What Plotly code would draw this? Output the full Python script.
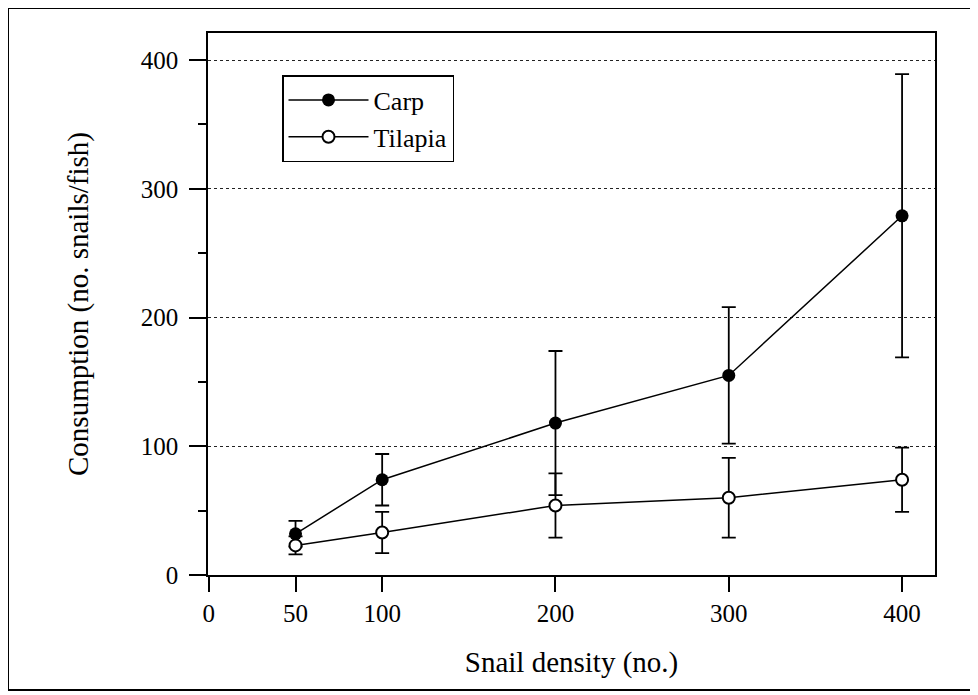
import plotly.graph_objects as go

density = [50, 100, 200, 300, 400]
carp = [32, 74, 118, 155, 279]
carp_err = [10, 20, 56, 53, 110]
tilapia = [23, 33, 54, 60, 74]
tilapia_err = [7, 16, 25, 31, 25]
x_ticks = [0, 50, 100, 200, 300, 400]
y_ticks = [0, 100, 200, 300, 400]

FONT = "Liberation Serif"

fig = go.Figure()
fig.add_trace(go.Scatter(
    x=density, y=carp, name="Carp", mode="lines+markers",
    line=dict(color="black", width=1.5),
    marker=dict(symbol="circle", size=13, color="black"),
    error_y=dict(type="data", array=carp_err, visible=True, color="black", thickness=1.8, width=7),
))
fig.add_trace(go.Scatter(
    x=density, y=tilapia, name="Tilapia", mode="lines+markers",
    line=dict(color="black", width=1.5),
    marker=dict(symbol="circle", size=12, color="white", line=dict(color="black", width=2)),
    error_y=dict(type="data", array=tilapia_err, visible=True, color="black", thickness=1.8, width=7),
))

OFF = 8  # body margin of the page
W, H = 970, 687
L, T = 208 - OFF, 33 - OFF
R = W - (935 - OFF)
B = H - (575 - OFF)
pw, ph = W - L - R, H - T - B

def px(xp):
    return (xp - OFF - L) / pw

def py(yp):
    return (H - B - (yp - OFF)) / ph

fig.update_layout(
    width=W, height=H,
    margin=dict(l=L, r=R, t=T, b=B, autoexpand=False),
    paper_bgcolor="white", plot_bgcolor="white",
    font=dict(family=FONT, size=25, color="black"),
    showlegend=True,
    legend=dict(
        x=px(282), y=py(75), xanchor="left", yanchor="top",
        bgcolor="white", bordercolor="black", borderwidth=1.5,
        font=dict(family=FONT, size=26, color="black"),
        tracegroupgap=0, itemwidth=80,
    ),
    xaxis=dict(
        range=[-0.5, 419], tickvals=x_ticks, ticktext=[str(v) for v in x_ticks],
        ticks="outside", ticklen=15, tickwidth=1.5, tickcolor="black",
        showline=True, linecolor="black", linewidth=1.5, mirror=True,
        showgrid=False, zeroline=False,
        tickfont=dict(family=FONT, size=25),
        title=dict(text="Snail density (no.)", font=dict(family=FONT, size=29), standoff=26),
    ),
    yaxis=dict(
        range=[0, 421], tickvals=y_ticks, ticktext=[str(v) for v in y_ticks],
        ticks="outside", ticklen=17, tickwidth=1.5, tickcolor="black",
        ticklabelstandoff=6,
        minor=dict(tickvals=[50, 150, 250, 350], ticks="outside", ticklen=8, tickwidth=1.5, tickcolor="black", showgrid=False),
        showline=True, linecolor="black", linewidth=1.5, mirror=True,
        showgrid=True, gridcolor="#222222", gridwidth=1.2, griddash="dot",
        zeroline=False,
        tickfont=dict(family=FONT, size=25),
        title=dict(text="Consumption (no. snails/fish)", font=dict(family=FONT, size=29), standoff=44),
    ),
    shapes=[
        dict(type="rect", xref="paper", yref="paper",
             x0=px(8), x1=px(975), y0=py(690), y1=py(8),
             line=dict(color="black", width=2), fillcolor="rgba(0,0,0,0)", layer="below"),
        dict(type="line", xref="paper", yref="paper",
             x0=px(192), x1=0, y0=0, y1=0,
             line=dict(color="black", width=1.5)),
    ],
)

fig.write_html("out.html")
